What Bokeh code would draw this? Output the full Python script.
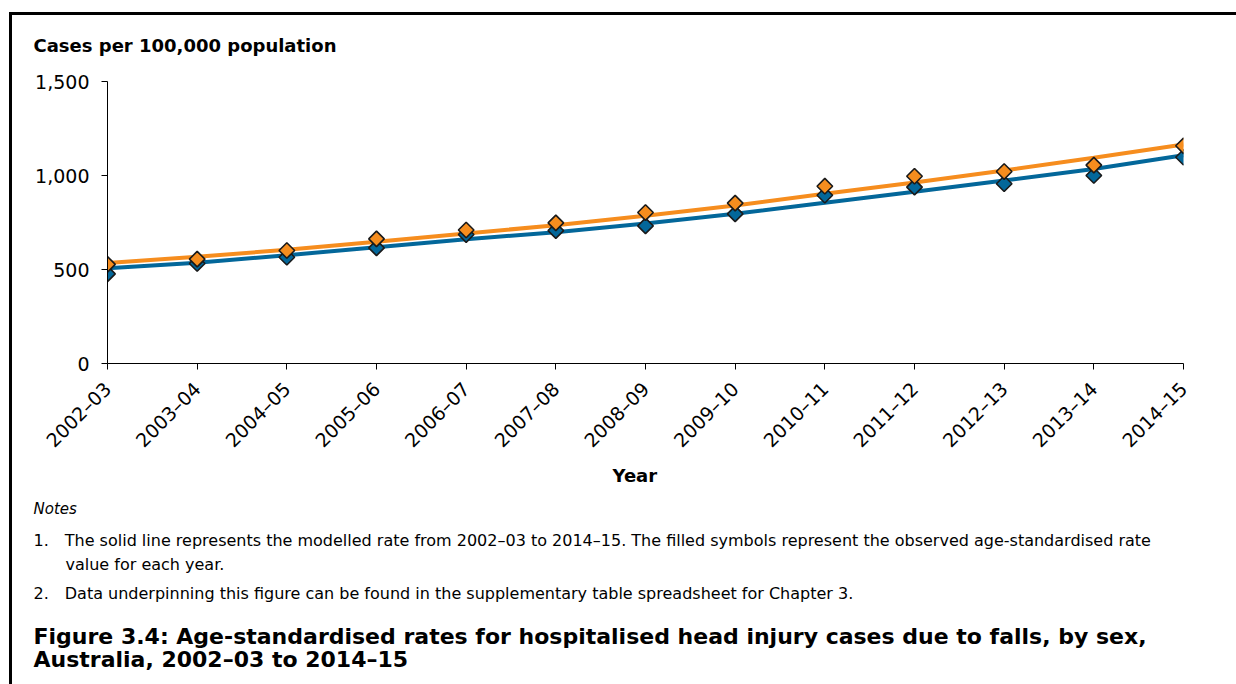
import math
from bokeh.plotting import figure
from bokeh.models import (Range1d, FixedTicker, NumeralTickFormatter, Title,
                          ColumnDataSource, InlineStyleSheet)
from bokeh.embed import file_html
from bokeh.resources import INLINE

# ---------------- data ----------------
years = ["2002\u201303", "2003\u201304", "2004\u201305", "2005\u201306", "2006\u201307",
         "2007\u201308", "2008\u201309", "2009\u201310", "2010\u201311", "2011\u201312",
         "2012\u201313", "2013\u201314", "2014\u201315"]
blue_observed = [477, 532, 565, 615, 686, 707, 732, 796, 895, 938, 956, 1000, 1097]
orange_observed = [527, 555, 601, 663, 710, 748, 803, 853, 943, 996, 1021, 1055, 1158]
blue_modelled = [507, 536, 576, 618, 661, 698, 745, 796, 855, 913, 973, 1035, 1108]
orange_modelled = [535, 568, 605, 648, 692, 735, 786, 840, 903, 963, 1027, 1094, 1165]
y_ticks = [0, 500, 1000, 1500]

BLUE = "#03679a"
ORANGE = "#f68d1e"
FONT = "DejaVu Sans"

W, H = 1236, 684
FL, FR, FT, FB = 107, 1183, 81, 363   # frame edges in pixels

p = figure(width=W, height=H, output_backend="svg", toolbar_location=None,
           x_range=Range1d(0, len(years) - 1), y_range=Range1d(0, 1500),
           min_border_left=FL, min_border_right=W - FR,
           min_border_top=FT, min_border_bottom=H - FB)
p.title = None
p.outline_line_color = None
p.xgrid.visible = False
p.ygrid.visible = False
p.background_fill_color = "white"
p.border_fill_color = "white"
p.stylesheets = [InlineStyleSheet(css="""
:host { position: relative; }
:host::after { content: ""; position: absolute; left: 9px; top: 12px; right: 0px;
  bottom: 0px; border-left: 3px solid #000; border-top: 3px solid #000;
  pointer-events: none; }
""")]

idx = list(range(len(years)))
src = ColumnDataSource(dict(x=idx, bo=blue_observed, oo=orange_observed,
                            bm=blue_modelled, om=orange_modelled))

p.line("x", "bm", source=src, line_color=BLUE, line_width=4)
p.line("x", "om", source=src, line_color=ORANGE, line_width=4)
p.scatter("x", "bo", source=src, marker="square", angle=math.pi / 4, size=11,
          fill_color=BLUE, line_color="#1a1a1a", line_width=1.6)
p.scatter("x", "oo", source=src, marker="square", angle=math.pi / 4, size=11,
          fill_color=ORANGE, line_color="#1a1a1a", line_width=1.6)

for ax in (p.xaxis[0], p.yaxis[0]):
    ax.axis_line_color = "black"
    ax.axis_line_width = 1
    ax.major_tick_line_color = "black"
    ax.major_tick_out = 6
    ax.major_tick_in = 0
    ax.minor_tick_line_color = None
    ax.major_label_text_font = FONT
    ax.major_label_text_font_size = "19px"
    ax.major_label_text_color = "black"

p.xaxis.ticker = FixedTicker(ticks=idx)
p.xaxis.major_label_overrides = {i: y for i, y in enumerate(years)}
p.xaxis.major_label_orientation = math.pi / 4
p.xaxis.major_label_standoff = 16
p.yaxis.ticker = FixedTicker(ticks=y_ticks)
p.yaxis.formatter = NumeralTickFormatter(format="0,0")
p.yaxis.major_label_standoff = 12

LEFT_OFF = 33 - FL
EM = "\u2003"


def add_title(where, text, size, style="normal", standoff=0.0, offset=LEFT_OFF,
              line_height=1.0):
    p.add_layout(Title(text=text, text_font=FONT, text_font_size=size,
                       text_font_style=style, text_color="black", align="left",
                       offset=offset, standoff=standoff,
                       text_line_height=line_height), where)


add_title("above", "Cases per 100,000 population", "18px", "bold", standoff=51)

add_title("below", "Year", "18px", "bold", standoff=0, offset=612 - FL)
add_title("below", "Notes", "15px", "italic", standoff=23.6)
add_title("below", "1." + EM + "The solid line represents the modelled rate from 2002\u201303 to "
          "2014\u201315. The filled symbols represent the observed age-standardised rate\n"
          + EM + EM + "value for each year.", "16px", standoff=-0.6, line_height=1.26)
add_title("below", "2." + EM + "Data underpinning this figure can be found in the supplementary "
          "table spreadsheet for Chapter 3.", "16px", standoff=17)
add_title("below", "Figure 3.4: Age-standardised rates for hospitalised head injury cases "
          "due to falls, by sex,\nAustralia, 2002\u201303 to 2014\u201315", "22px", "bold",
          standoff=19, line_height=0.94)

open("out.html", "w").write(file_html(p, INLINE))
